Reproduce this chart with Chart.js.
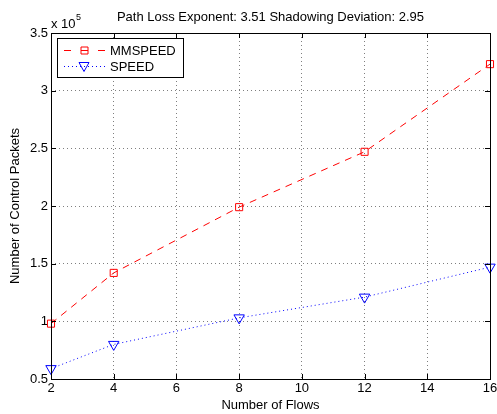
<!DOCTYPE html>
<html>
<head>
<meta charset="utf-8">
<script src="https://cdn.jsdelivr.net/npm/chart.js@4"></script>
<style>
  body { margin: 0; background: #fff; }
  #lossChart { display: block; }
</style>
</head>
<body>
<canvas id="lossChart" width="497" height="414"></canvas>
<script>
// values (y in units of 10^5)
const flows = [2, 4, 8, 12, 16];
const mmspeed = [0.98, 1.42, 1.99, 2.47, 3.23];
const speed = [0.59, 0.80, 1.03, 1.21, 1.47];
const seriesNames = ['MMSPEED', 'SPEED'];

const FONT = 'Liberation Sans, Arial, Helvetica, sans-serif';

function toPoints(ys) {
  return flows.map((f, i) => ({ x: f, y: ys[i] }));
}

// box, inward ticks, title, exponent and legend, MATLAB style
const matlabFrame = {
  id: 'matlabFrame',
  afterDraw(chart) {
    const ctx = chart.ctx;
    const a = chart.chartArea;
    const xs = chart.scales.x, ys = chart.scales.y;
    ctx.save();
    ctx.strokeStyle = '#000';
    ctx.lineWidth = 1;
    ctx.setLineDash([]);
    ctx.strokeRect(Math.round(a.left) + 0.5, Math.round(a.top) + 0.5,
      Math.round(a.right - a.left), Math.round(a.bottom - a.top));

    ctx.beginPath();
    xs.ticks.forEach(t => {
      const px = Math.round(xs.getPixelForValue(t.value)) + 0.5;
      ctx.moveTo(px, a.bottom); ctx.lineTo(px, a.bottom - 5);
      ctx.moveTo(px, a.top); ctx.lineTo(px, a.top + 5);
    });
    ys.ticks.forEach(t => {
      const py = Math.round(ys.getPixelForValue(t.value)) + 0.5;
      ctx.moveTo(a.left, py); ctx.lineTo(a.left + 5, py);
      ctx.moveTo(a.right, py); ctx.lineTo(a.right - 5, py);
    });
    ctx.stroke();

    // title
    ctx.fillStyle = '#000';
    ctx.font = '13px ' + FONT;
    ctx.textAlign = 'center';
    ctx.textBaseline = 'middle';
    ctx.fillText('Path Loss Exponent: 3.51 Shadowing Deviation: 2.95', (a.left + a.right) / 2, 17);

    // x 10^5
    ctx.textAlign = 'left';
    ctx.textBaseline = 'alphabetic';
    ctx.fillText('x 10', 51, 28);
    ctx.font = '9px ' + FONT;
    ctx.fillText('5', 76, 20);

    // legend
    ctx.fillStyle = '#fff';
    ctx.fillRect(57, 38, 126, 39);
    ctx.strokeStyle = '#000';
    ctx.strokeRect(57.5, 38.5, 126, 39);

    const ds = chart.data.datasets;
    const rows = [50, 66];
    ds.forEach((d, i) => {
      const y = rows[i] + 0.5;
      ctx.strokeStyle = d.borderColor;
      ctx.lineWidth = 1;
      ctx.setLineDash(i === 0 ? [7, 10] : [1, 3]);
      ctx.beginPath();
      ctx.moveTo(64, y); ctx.lineTo(105, y);
      ctx.stroke();
      ctx.setLineDash([]);
      ctx.beginPath();
      if (i === 0) {
        ctx.rect(81, y - 3.5, 7, 7);
      } else {
        ctx.moveTo(79, y - 4); ctx.lineTo(89, y - 4); ctx.lineTo(84, y + 5); ctx.closePath();
      }
      ctx.stroke();
      ctx.fillStyle = '#000';
      ctx.font = '13px ' + FONT;
      ctx.textBaseline = 'middle';
      ctx.fillText(seriesNames[i], 110, rows[i] + 1);
    });
    ctx.restore();
  }
};

const lossChart = new Chart(document.getElementById('lossChart'), {
  type: 'line',
  data: {
    datasets: [{
      label: seriesNames[0],
      data: toPoints(mmspeed),
      borderColor: '#ff0000',
      borderWidth: 1,
      borderDash: [7, 6],
      pointStyle: 'rect',
      pointRadius: 5,
      pointBorderColor: '#ff0000',
      pointBackgroundColor: 'rgba(0,0,0,0)',
      pointBorderWidth: 1,
      fill: false,
      tension: 0,
      clip: false
    }, {
      label: seriesNames[1],
      data: toPoints(speed),
      borderColor: '#0000ff',
      borderWidth: 1,
      borderDash: [1, 3],
      pointStyle: 'triangle',
      pointRotation: 180,
      pointRadius: 6,
      pointBorderColor: '#0000ff',
      pointBackgroundColor: 'rgba(0,0,0,0)',
      pointBorderWidth: 1,
      fill: false,
      tension: 0,
      clip: false
    }]
  },
  options: {
    responsive: false,
    animation: false,
    events: [],
    layout: { padding: { top: 33, right: 5, left: 0, bottom: 0 } },
    plugins: {
      legend: { display: false },
      tooltip: { enabled: false }
    },
    scales: {
      x: {
        type: 'linear',
        min: 2,
        max: 16,
        ticks: { stepSize: 2, color: '#000', padding: 2, maxRotation: 0, font: { family: FONT, size: 13 } },
        grid: { color: 'rgba(0,0,0,0.5)', drawTicks: false },
        border: { display: false, dash: [1, 3] },
        title: { display: true, text: 'Number of Flows', color: '#000', padding: { top: 0, bottom: 1 }, font: { family: FONT, size: 13 } },
        afterFit(scale) { scale.height = 35; scale.paddingLeft = 0; scale.paddingRight = 0; }
      },
      y: {
        type: 'linear',
        min: 0.5,
        max: 3.5,
        ticks: {
          stepSize: 0.5, color: '#000', padding: 3, font: { family: FONT, size: 13 },
          callback: v => String(Math.round(v * 10) / 10)
        },
        grid: { color: 'rgba(0,0,0,0.5)', drawTicks: false },
        border: { display: false, dash: [1, 3] },
        title: { display: true, text: 'Number of Control Packets', color: '#000', padding: { top: 8, bottom: 0 }, font: { family: FONT, size: 13 } },
        afterFit(scale) { scale.width = 51; scale.paddingTop = 0; scale.paddingBottom = 0; }
      }
    }
  },
  plugins: [matlabFrame]
});
</script>
</body>
</html>
